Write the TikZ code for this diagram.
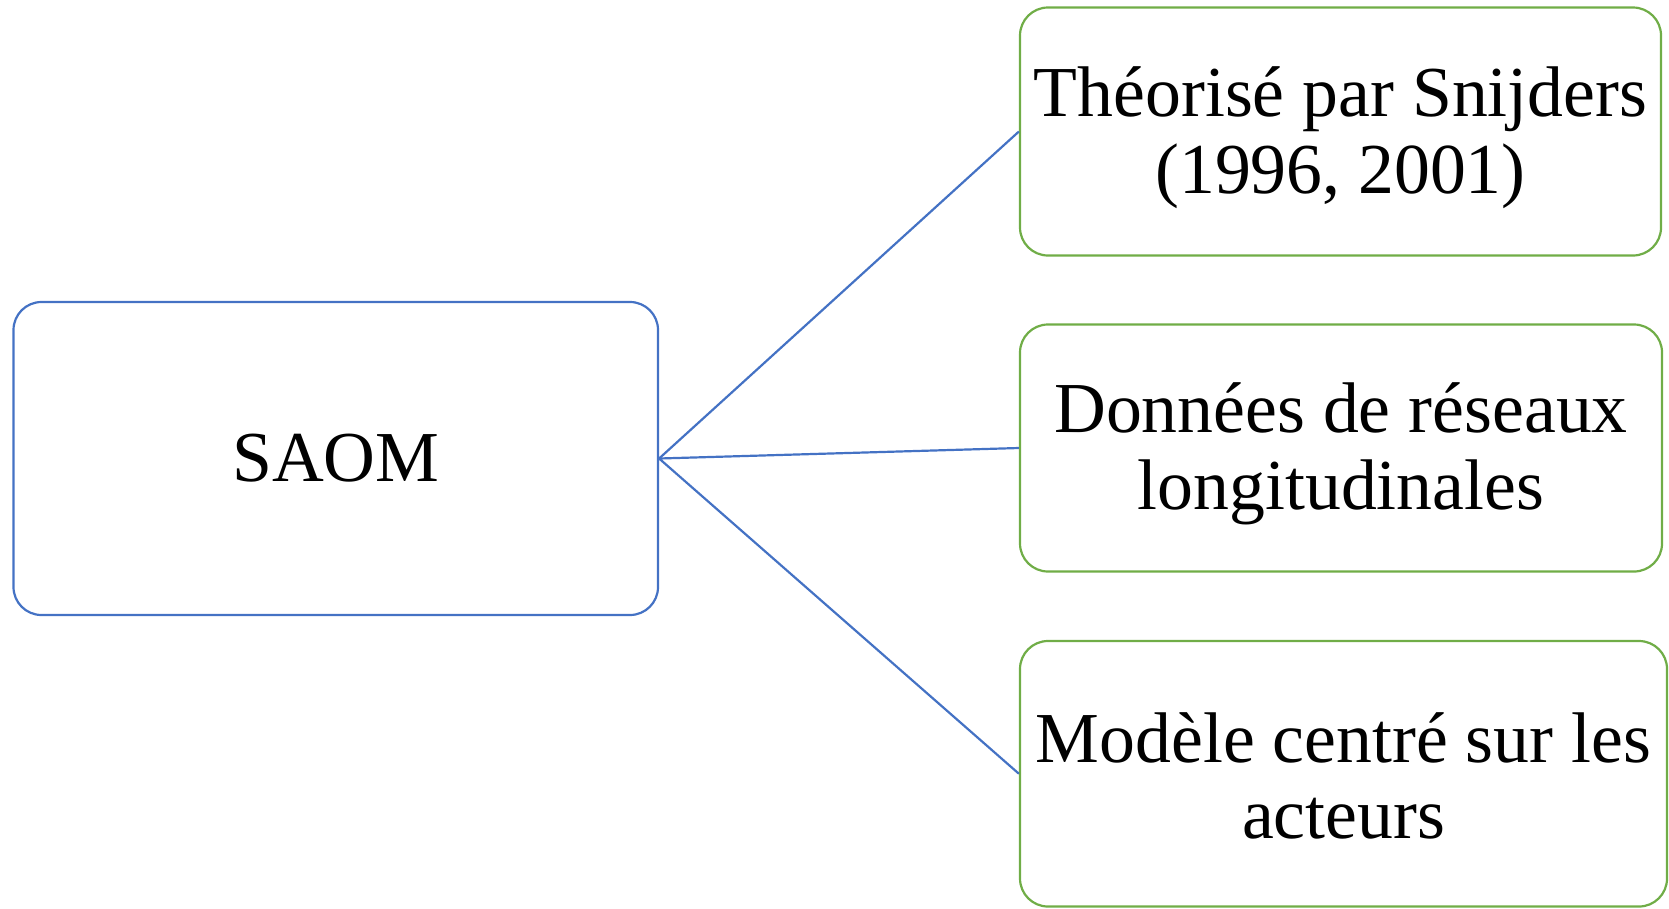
\documentclass[tikz,border=0pt]{standalone}
\usepackage{fontspec}
\setmainfont{Liberation Serif}
\definecolor{boxblue}{HTML}{4472C4}
\definecolor{boxgreen}{HTML}{70AD47}
\begin{document}
\begin{tikzpicture}[x=1pt,y=-1pt,
  box/.style={draw, line width=2.2pt, rounded corners=28pt, inner sep=0pt},
  txt/.style={inner sep=0pt, align=center, font=\fontsize{71.7}{76.6}\selectfont},
  link/.style={draw=boxblue, line width=2.2pt}]
\useasboundingbox (0,0) rectangle (1669,908);
\node[box, draw=boxblue, minimum width=644.5pt, minimum height=313pt] (saom) at (335.75,458.5) {};
\node[txt] (tsaom) at (saom.center) {SAOM};
\node[box, draw=boxgreen, minimum width=641pt, minimum height=248pt] (b1) at (1340.5,131.5) {};
\node[txt] (t1) at ([yshift=-6pt]b1.center) {Théorisé par Snijders\\(1996, 2001)};
\node[box, draw=boxgreen, minimum width=642pt, minimum height=247pt] (b2) at (1341,448) {};
\node[txt] (t2) at ([yshift=-6pt]b2.center) {Données de réseaux\\longitudinales};
\node[box, draw=boxgreen, minimum width=647pt, minimum height=265.5pt] (b3) at (1343.5,773.75) {};
\node[txt] (t3) at ([yshift=-2pt]b3.center) {Modèle centré sur les\\acteurs};
\draw[link] (saom.east) -- (b1.west);
\draw[link] (saom.east) -- (b2.west);
\draw[link] (saom.east) -- (b3.west);
\end{tikzpicture}
\end{document}
